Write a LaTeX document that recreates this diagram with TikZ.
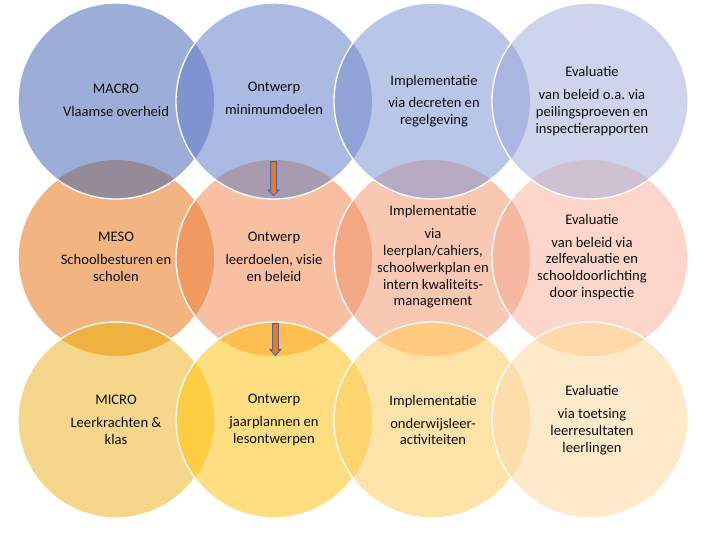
\documentclass[tikz,border=0pt]{standalone}
\usepackage{fontspec}
\setmainfont{Carlito}
\frenchspacing
\definecolor{bA}{RGB}{156,174,216}
\definecolor{bB}{RGB}{170,186,226}
\definecolor{bC}{RGB}{186,198,231}
\definecolor{bD}{RGB}{205,212,236}
\definecolor{oA}{RGB}{242,181,130}
\definecolor{oB}{RGB}{248,191,162}
\definecolor{oC}{RGB}{249,200,178}
\definecolor{oD}{RGB}{252,214,202}
\definecolor{yA}{RGB}{246,214,138}
\definecolor{yB}{RGB}{254,222,128}
\definecolor{yC}{RGB}{254,227,168}
\definecolor{yD}{RGB}{254,234,202}
% horizontal lenses
\definecolor{bAB}{RGB}{126,147,207}
\definecolor{bBC}{RGB}{144,163,214}
\definecolor{bCD}{RGB}{170,182,224}
\definecolor{oAB}{RGB}{240,154,96}
\definecolor{oBC}{RGB}{243,168,132}
\definecolor{oCD}{RGB}{246,184,160}
\definecolor{yAB}{RGB}{254,204,64}
\definecolor{yBC}{RGB}{254,212,110}
\definecolor{yCD}{RGB}{253,222,170}
% vertical lenses
\definecolor{vbA}{RGB}{149,138,152}
\definecolor{vbB}{RGB}{168,155,175}
\definecolor{vbC}{RGB}{185,170,195}
\definecolor{vbD}{RGB}{207,192,210}
\definecolor{vyA}{RGB}{239,178,64}
\definecolor{vyB}{RGB}{255,190,80}
\definecolor{vyC}{RGB}{255,201,127}
\definecolor{vyD}{RGB}{254,216,168}
\definecolor{arrfill}{RGB}{240,120,30}
\definecolor{arrline}{RGB}{68,104,176}
\definecolor{txt}{RGB}{15,15,15}
\begin{document}
\begin{tikzpicture}[x=1pt,y=-1pt,
  circ/.style={circle,inner sep=0pt,minimum size=196pt},
  ring/.style={draw=white,line width=1.3pt},
  lbl/.style={align=center,text=txt,font=\fontsize{14.6}{16.8}\selectfont,inner sep=0pt},
  blockarrow/.style={fill=arrfill,draw=arrline,line width=1pt,line join=miter}]
\useasboundingbox (0,0) rectangle (714,535);
\def\R{98}
% ---------- row 2 (MESO) ----------
\fill[oA] (116,258) circle (\R);
\draw[ring] (116,258) circle (\R);
\fill[oB] (274,258) circle (\R);
\begin{scope}\clip (274,258) circle (\R); \fill[oAB] (116,258) circle (\R);\end{scope}
\draw[ring] (274,258) circle (\R);
\fill[oC] (432,258) circle (\R);
\begin{scope}\clip (432,258) circle (\R); \fill[oBC] (274,258) circle (\R);\end{scope}
\draw[ring] (432,258) circle (\R);
\fill[oD] (590,258) circle (\R);
\begin{scope}\clip (590,258) circle (\R); \fill[oCD] (432,258) circle (\R);\end{scope}
\draw[ring] (590,258) circle (\R);
% ---------- row 1 (MACRO) ----------
\fill[bA] (116,101) circle (\R);
\begin{scope}\clip (116,101) circle (\R); \fill[vbA] (116,258) circle (\R);\end{scope}
\draw[ring] (116,101) circle (\R);
\fill[bB] (274,101) circle (\R);
\begin{scope}\clip (274,101) circle (\R); \fill[bAB] (116,101) circle (\R); \fill[vbB] (274,258) circle (\R);\end{scope}
\draw[ring] (274,101) circle (\R);
\fill[bC] (432,101) circle (\R);
\begin{scope}\clip (432,101) circle (\R); \fill[bBC] (274,101) circle (\R); \fill[vbC] (432,258) circle (\R);\end{scope}
\draw[ring] (432,101) circle (\R);
\fill[bD] (590,101) circle (\R);
\begin{scope}\clip (590,101) circle (\R); \fill[bCD] (432,101) circle (\R); \fill[vbD] (590,258) circle (\R);\end{scope}
\draw[ring] (590,101) circle (\R);
% ---------- row 3 (MICRO) ----------
\fill[yA] (116,420) circle (\R);
\begin{scope}\clip (116,420) circle (\R); \fill[vyA] (116,258) circle (\R);\end{scope}
\draw[ring] (116,420) circle (\R);
\fill[yB] (274,420) circle (\R);
\begin{scope}\clip (274,420) circle (\R); \fill[yAB] (116,420) circle (\R); \fill[vyB] (274,258) circle (\R);\end{scope}
\draw[ring] (274,420) circle (\R);
\fill[yC] (432,420) circle (\R);
\begin{scope}\clip (432,420) circle (\R); \fill[yBC] (274,420) circle (\R); \fill[vyC] (432,258) circle (\R);\end{scope}
\draw[ring] (432,420) circle (\R);
\fill[yD] (590,420) circle (\R);
\begin{scope}\clip (590,420) circle (\R); \fill[yCD] (432,420) circle (\R); \fill[vyD] (590,258) circle (\R);\end{scope}
\draw[ring] (590,420) circle (\R);
% ---------- circle nodes (for names) ----------
\node[circ] (c11) at (116,101) {};
\node[circ] (c12) at (274,101) {};
\node[circ] (c13) at (432,101) {};
\node[circ] (c14) at (590,101) {};
\node[circ] (c21) at (116,258) {};
\node[circ] (c22) at (274,258) {};
\node[circ] (c23) at (432,258) {};
\node[circ] (c24) at (590,258) {};
\node[circ] (c31) at (116,420) {};
\node[circ] (c32) at (274,420) {};
\node[circ] (c33) at (432,420) {};
\node[circ] (c34) at (590,420) {};
% ---------- texts ----------
\node[lbl] (t11) at (116,100) {MACRO\\[6pt]Vlaamse overheid};
\node[lbl] (t12) at (274,98) {Ontwerp\\[6pt]minimumdoelen};
\node[lbl] (t13) at (434,101) {Implementatie\\[6pt]via decreten en\\regelgeving};
\node[lbl] (t14) at (592,101) {Evaluatie\\[6pt]van beleid o.a. via\\peilingsproeven en\\inspectierapporten};
\node[lbl] (t21) at (116,257) {MESO\\[6pt]Schoolbesturen en\\scholen};
\node[lbl] (t22) at (274,257) {Ontwerp\\[6pt]leerdoelen, visie\\en beleid};
\node[lbl] (t23) at (433,257) {Implementatie\\[6pt]via\\leerplan/cahiers,\\schoolwerkplan en\\intern kwaliteits-\\management};
\node[lbl] (t24) at (592,257) {Evaluatie\\[6pt]van beleid via\\zelfevaluatie en\\schooldoorlichting\\door inspectie};
\node[lbl] (t31) at (116,420) {MICRO\\[6pt]Leerkrachten \&\\klas};
\node[lbl] (t32) at (274,420) {Ontwerp\\[6pt]jaarplannen en\\lesontwerpen};
\node[lbl] (t33) at (433,420) {Implementatie\\[6pt]onderwijsleer-\\activiteiten};
\node[lbl] (t34) at (592,420) {Evaluatie\\[6pt]via toetsing\\leerresultaten\\leerlingen};
% ---------- block arrows ----------
\draw[blockarrow] (270.5,161.5) -- (276.5,161.5) -- (276.5,190) -- (279,190) -- (273.5,195.5) -- (268,190) -- (270.5,190) -- cycle;
\draw[blockarrow] (272.5,323.5) -- (278.3,323.5) -- (278.3,349.5) -- (280.8,349.5) -- (275.4,355.5) -- (270,349.5) -- (272.5,349.5) -- cycle;
\end{tikzpicture}
\end{document}
